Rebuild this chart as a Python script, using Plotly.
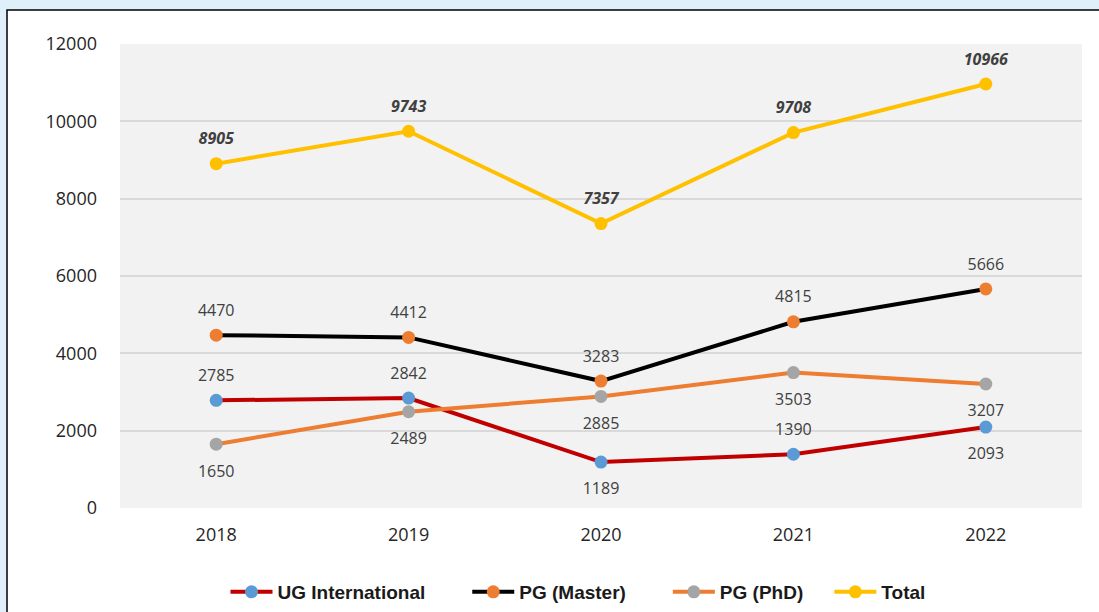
import plotly.graph_objects as go

years = ["2018", "2019", "2020", "2021", "2022"]
ug_international = [2785, 2842, 1189, 1390, 2093]
pg_master = [4470, 4412, 3283, 4815, 5666]
pg_phd = [1650, 2489, 2885, 3503, 3207]
total = [8905, 9743, 7357, 9708, 10966]

ug_pos = ["top center", "top center", "bottom center", "top center", "bottom center"]
master_pos = ["top center"] * 5
phd_pos = ["bottom center"] * 5
total_pos = ["top center"] * 5

label_font = dict(family="Open Sans, Liberation Sans, sans-serif", size=16, color="#404040")

fig = go.Figure()
label_traces = []

def add(name, vals, pos, line_color, marker_color, bold_italic=False, pad=0):
    texts = [str(v) for v in vals]
    if bold_italic:
        texts = [f"<b><i>{v}</i></b>" for v in vals]
    fig.add_trace(go.Scatter(
        x=years, y=vals, name=name + "\u00a0" * pad, mode="lines+markers",
        line=dict(color=line_color, width=4),
        marker=dict(color=marker_color, size=13),
        cliponaxis=False, hoverinfo="x+y+name",
    ))
    # transparent spacer markers so the labels sit a little away from the points
    sizes = [23 if p.startswith("top") else 31 for p in pos]
    label_traces.append(go.Scatter(
        x=years, y=vals, mode="markers+text", showlegend=False, hoverinfo="skip",
        marker=dict(color="rgba(0,0,0,0)", size=sizes, line=dict(width=0, color="rgba(0,0,0,0)")),
        text=texts, textposition=pos, textfont=label_font, cliponaxis=False,
    ))

add("UG International", ug_international, ug_pos, "#C00000", "#5B9BD5", pad=7)
add("PG (Master)", pg_master, master_pos, "#000000", "#ED7D31", pad=7)
add("PG (PhD)", pg_phd, phd_pos, "#ED7D31", "#A5A5A5", pad=4)
add("Total", total, total_pos, "#FFC000", "#FFC000", bold_italic=True)
for t in label_traces:
    fig.add_trace(t)

W, H = 1099, 612
ml, mr, mt, mb = 120, 17, 44, 104
pw, ph = W - ml - mr, H - mt - mb

def px(x):
    return (x - ml) / pw

def py(y):
    return (H - mb - y) / ph

fig.add_shape(type="rect", xref="paper", yref="paper",
              x0=px(7), x1=px(1120), y0=py(630), y1=py(10),
              fillcolor="white", line=dict(color="#000000", width=1.5), layer="below")
fig.add_shape(type="rect", xref="paper", yref="paper",
              x0=0, x1=1, y0=0, y1=1,
              fillcolor="#F2F2F2", line=dict(width=0), layer="below")

fig.update_layout(
    width=W, height=H,
    margin=dict(l=ml, r=mr, t=mt, b=mb, pad=0, autoexpand=False),
    paper_bgcolor="#DFF0FA",
    plot_bgcolor="rgba(0,0,0,0)",
    font=dict(family="Open Sans, Liberation Sans, sans-serif", color="#262626"),
    showlegend=True,
    legend=dict(orientation="h", x=px(578), xanchor="center",
                yref="container", y=(H - 592) / H, yanchor="middle",
                font=dict(size=19, color="#1a1a1a", family="Liberation Sans, Arial, sans-serif", weight="bold"),
                bgcolor="rgba(0,0,0,0)", itemwidth=42),
    xaxis=dict(type="category", range=[-0.5, 4.5], showgrid=False, zeroline=False,
               tickfont=dict(size=18, color="#262626"), ticks="", showline=False, ticklabelstandoff=14),
    yaxis=dict(range=[0, 12000], dtick=2000, tickformat="d", gridcolor="#D9D9D9", gridwidth=1.5, zeroline=False,
               tickfont=dict(size=18, color="#262626"), ticks="", showline=False, ticklabelstandoff=22),
)

fig.write_html("out.html", config={"displayModeBar": False},
               post_script="document.body.style.margin='0';")
